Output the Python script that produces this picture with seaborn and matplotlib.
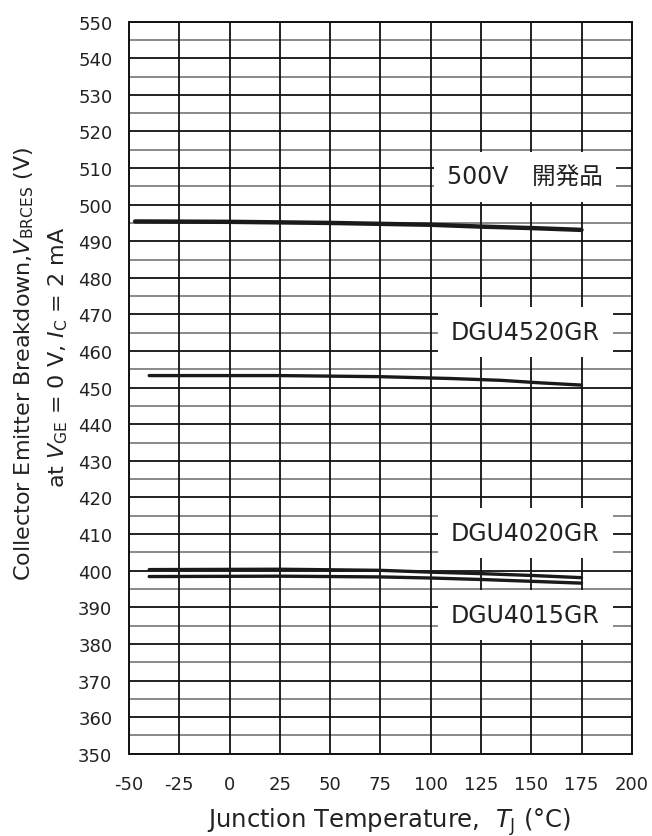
import matplotlib
matplotlib.use("Agg")
import matplotlib.pyplot as plt
import seaborn as sns
import pandas as pd
import numpy as np

# values
temps_500v = [-47, 0, 50, 100, 125, 150, 175]
bv_500v = [495.4, 495.3, 495.0, 494.5, 494.0, 493.6, 493.1]

temps_4520 = [-40, 25, 75, 110, 135, 155, 175]
bv_4520 = [453.3, 453.3, 453.0, 452.5, 452.0, 451.3, 450.7]

temps_4020 = [-40, 25, 75, 100, 125, 150, 175]
bv_4020 = [400.3, 400.4, 400.1, 399.6, 399.2, 398.7, 398.1]

temps_4015 = [-40, 25, 75, 100, 125, 150, 175]
bv_4015 = [398.4, 398.5, 398.3, 398.0, 397.6, 397.1, 396.6]

series_names = ["500V　開発品", "DGU4520GR", "DGU4020GR", "DGU4015GR"]
label_y = [507.6, 465.3, 410.4, 388.0]
label_x = 147

x_ticks = list(range(-50, 201, 25))
y_ticks = list(range(350, 551, 10))

sns.set_style("white")
plt.rcParams["font.family"] = ["DejaVu Sans", "Noto Sans CJK JP"]
plt.rcParams["mathtext.fontset"] = "dejavusans"
plt.rcParams["axes.unicode_minus"] = False

frames = []
for name, t, v in zip(series_names,
                      [temps_500v, temps_4520, temps_4020, temps_4015],
                      [bv_500v, bv_4520, bv_4020, bv_4015]):
    frames.append(pd.DataFrame({"Tj": t, "BV": v, "device": name}))
df = pd.concat(frames, ignore_index=True)

fig = plt.figure(figsize=(6.52, 8.37), dpi=100)
ax = fig.add_axes([0.198, 0.0983, 0.771, 0.8747])

# grid: minor every 5 V in grey, major every 10 V / 25 degC in black
for yv in np.arange(355, 550, 10):
    ax.axhline(yv, color="#808080", lw=1.3, zorder=1)
for yv in y_ticks:
    ax.axhline(yv, color="#111111", lw=1.3, zorder=1)
for xv in x_ticks:
    ax.axvline(xv, color="#111111", lw=1.3, zorder=1)

widths = [3.2, 2.4, 2.4, 2.4]
for name, lw in zip(series_names, widths):
    sns.lineplot(data=df[df["device"] == name], x="Tj", y="BV", ax=ax,
                 color="#1a1a1a", lw=lw, legend=False, zorder=3)

for name, yl in zip(series_names, label_y):
    ax.text(label_x, yl, name, ha="center", va="center", fontsize=17,
            color="#222222", zorder=4,
            bbox=dict(boxstyle="square,pad=0.55", fc="white", ec="none"))

ax.set_xlim(-50, 200)
ax.set_ylim(350, 550)
ax.set_xticks(x_ticks)
ax.set_yticks(y_ticks)
ax.tick_params(length=0, labelsize=13, colors="#222222")
ax.tick_params(axis="y", pad=12)
ax.tick_params(axis="x", pad=15)
for sp in ax.spines.values():
    sp.set_color("#111111")
    sp.set_linewidth(1.4)
ax.set_xlabel("")
ax.set_ylabel("")

fig.text(0.597, 0.018, r"Junction Temperature,  $T_{\mathrm{J}}$ (°C)",
         ha="center", va="center", fontsize=17.5, color="#222222")
fig.text(0.037, 0.565, r"Collector Emitter Breakdown,$V_{\mathrm{BRCES}}$ (V)",
         rotation=90, ha="center", va="center", fontsize=16, color="#222222")
fig.text(0.089, 0.573, r"at $V_{\mathrm{GE}}$ = 0 V, $I_{\mathrm{C}}$ = 2 mA",
         rotation=90, ha="center", va="center", fontsize=16, color="#222222")

fig.savefig("out.png", dpi=100)
